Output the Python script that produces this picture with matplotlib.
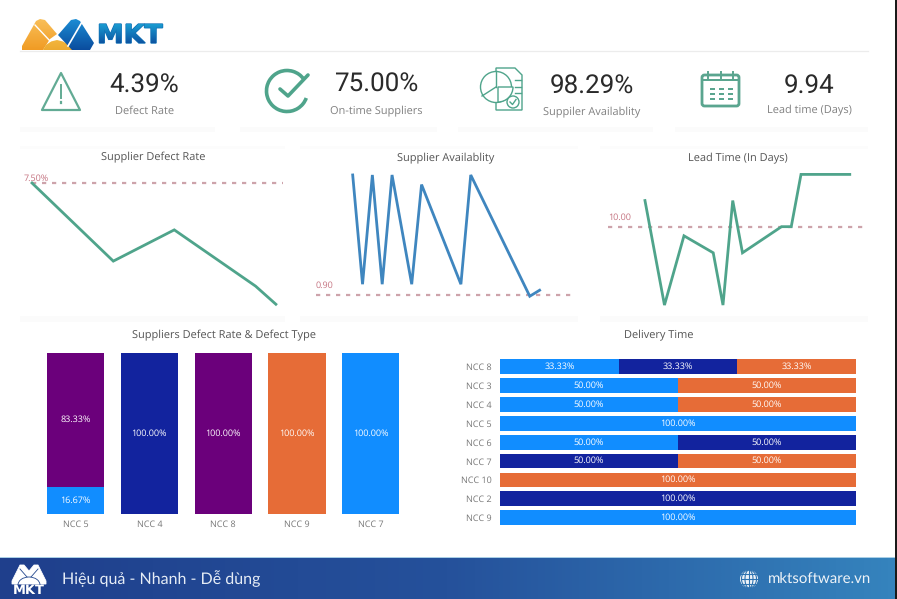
import numpy as np
import matplotlib
matplotlib.use("Agg")
import matplotlib.pyplot as plt
from matplotlib.colors import LinearSegmentedColormap
from matplotlib.font_manager import FontProperties
from matplotlib.patches import Circle, FancyBboxPatch, PathPatch, Polygon, Rectangle, Wedge, Arc
from matplotlib.path import Path
from matplotlib.textpath import TextPath
from matplotlib.transforms import Affine2D

W, H = 897, 599

# kpi cards
kpi_values = ["4.39%", "75.00%", "98.29%", "9.94"]
kpi_labels = ["Defect Rate", "On-time Suppliers", "Suppiler Availablity", "Lead time (Days)"]

# line charts, x is the position along the date axis
defect_x = [0, 4, 7, 11, 12]
defect_y = [7.5, 5.0, 6.0, 4.2, 3.62]
defect_target = 7.5

avail_x = [0, 1, 2, 3, 4, 6, 7, 11, 12, 18, 19]
avail_y = [1.0, 0.909, 1.0, 0.909, 1.0, 0.909, 0.992, 0.909, 1.0, 0.899, 0.904]
avail_target = 0.9

lead_x = [0, 2, 4, 7, 8, 9, 10, 14, 15, 16, 21]
lead_y = [11, 7, 9.65, 9, 7, 11, 9, 10, 10, 12, 12]
lead_target = 10

# defect type columns
defect_names = ["NCC 5", "NCC 4", "NCC 8", "NCC 9", "NCC 7"]
defect_blue = [16.67, 0, 0, 0, 100]
defect_navy = [0, 100, 0, 0, 0]
defect_purple = [83.33, 0, 100, 0, 0]
defect_orange = [0, 0, 0, 100, 0]

# delivery time bars
delivery_names = ["NCC 8", "NCC 3", "NCC 4", "NCC 5", "NCC 6", "NCC 7", "NCC 10", "NCC 2", "NCC 9"]
delivery_blue = [33.33, 50, 50, 100, 50, 0, 0, 0, 100]
delivery_navy = [33.33, 0, 0, 0, 50, 50, 0, 100, 0]
delivery_orange = [33.33, 50, 50, 0, 0, 50, 100, 0, 0]

BLUE = "#118dff"
NAVY = "#12239e"
ORANGE = "#e66c37"
PURPLE = "#6b007b"
TEAL = "#4fa48b"
LINE_BLUE = "#3f86bf"
DASH = "#cda3ab"
RED_TEXT = "#c4717f"
UI_FONT = "Open Sans"

plt.rcParams["text.hinting"] = "none"
plt.rcParams["text.hinting_factor"] = 1

fig = plt.figure(figsize=(W / 100, H / 100), dpi=100, facecolor="white")


def px_axes(left, top, right, bottom):
    ax = fig.add_axes([left / W, 1 - bottom / H, (right - left) / W, (bottom - top) / H])
    ax.patch.set_alpha(0)
    return ax


# page layer in pixel coordinates for cards, icons, logo and footer
page = px_axes(0, 0, W, H)
page.set_axis_off()


def gradient(path, box, colors, horizontal=False):
    x0, y0, x1, y1 = box
    cmap = LinearSegmentedColormap.from_list("g", colors)
    ramp = np.linspace(0, 1, 128)
    ramp = ramp.reshape(1, -1) if horizontal else ramp.reshape(-1, 1)
    im = page.imshow(ramp, cmap=cmap, extent=(x0, x1, y1, y0), aspect="auto", zorder=3,
                     interpolation="bilinear")
    if path is not None:
        im.set_clip_path(path, page.transData)
    return im


def poly_path(points):
    return Path(points + [points[0]], closed=False)


# faint card shading
for x0, x1 in [(20, 215), (240, 437), (458, 653), (675, 868)]:
    page.add_patch(Rectangle((x0, 127), x1 - x0, 5, fc="#fbfbfb", ec="none", zorder=1))
for x0, x1 in [(20, 285), (300, 578), (600, 868)]:
    page.add_patch(Rectangle((x0, 146), x1 - x0, 3, fc="#fcfcfc", ec="none", zorder=1))
    page.add_patch(Rectangle((x0, 316), x1 - x0, 6, fc="#fbfbfb", ec="none", zorder=1))
page.plot([20, 868], [51, 51], color="#ececec", lw=0.9, zorder=1)

# logo
gradient(poly_path([(22, 50), (22, 46), (36, 21), (40, 19), (45, 20), (57, 34), (50, 39), (43, 50)]),
         (20, 18, 74, 51), ["#f9c05a", "#f09a22"])
gradient(poly_path([(43, 50), (46, 45), (51, 41.5), (57, 40), (63, 41.5), (69, 45), (73, 50)]),
         (42, 38, 74, 51), ["#f4b840", "#eca92f"])
gradient(poly_path([(58, 35), (71, 20), (76, 19), (80, 21), (94, 43), (90, 50), (72, 50)]),
         (57, 18, 95, 51), ["#1c8fd6", "#0a4a9c"])
page.plot([35, 50], [25, 41], color="white", lw=1.0, zorder=4)
page.plot([82, 68], [22, 46], color="white", lw=1.2, zorder=4)

logo_text = TextPath((0, 0), "MKT", size=26, prop=FontProperties(family="DejaVu Sans", weight="bold"))
logo_text = logo_text.transformed(Affine2D().scale(1.03, -1).translate(97, 43))
page.add_patch(PathPatch(logo_text, fc="#1070b5", ec="#1070b5", lw=1.0, zorder=2))
gradient(logo_text, (96, 23, 165, 44), ["#1ba0d4", "#0c50a0"])

# kpi numbers
kpi_x = [144.5, 376, 592, 809]
kpi_y = [86, 85, 87, 86]
kpi_ly = [111.5, 110.5, 112.5, 110.5]
for x, y, ly, val, lab in zip(kpi_x, kpi_y, kpi_ly, kpi_values, kpi_labels):
    page.text(x, y, val, ha="center", va="center", fontsize=18.5, color="#2a2a2a",
              family="Roboto", zorder=5)
    page.text(x, ly, lab, ha="center", va="center", fontsize=8.1, color="#808080",
              family=UI_FONT, zorder=5)

# warning icon
page.add_patch(Polygon([(42, 110), (80, 110), (61, 73)], closed=True, fc="none", ec="#62ab94",
                       lw=1.6, joinstyle="round", zorder=5))
page.plot([61, 61], [85, 98], color="#62ab94", lw=1.4, zorder=5)
page.plot([61, 61], [101.5, 103], color="#62ab94", lw=1.6, zorder=5)

# check icon
page.add_patch(Arc((287, 91), 41, 41, theta1=-340, theta2=-35, color=TEAL, lw=2.6, zorder=5))
page.plot([280, 288, 308], [89, 96, 75], color=TEAL, lw=2.6, solid_capstyle="round",
          solid_joinstyle="round", zorder=5)

# report icon
icon_lw = 1.0
page.add_patch(Polygon([(496, 68), (515, 68), (522, 75), (522, 110), (496, 110)], closed=True,
                       fc="white", ec=TEAL, lw=icon_lw, zorder=5))
page.add_patch(Circle((496, 87), 15.5, fc="white", ec=TEAL, lw=icon_lw, zorder=5))
page.add_patch(Wedge((498, 87), 15, 0, 90, fc="white", ec=TEAL, lw=icon_lw, zorder=6))
page.plot([496, 482], [87, 96], color=TEAL, lw=icon_lw, zorder=6)
page.plot([496, 496], [87, 71], color=TEAL, lw=icon_lw, zorder=6)
for y in [80, 87, 93]:
    page.plot([515, 521], [y, y], color=TEAL, lw=icon_lw, zorder=6)
page.add_patch(Circle((513, 102), 6, fc="white", ec=TEAL, lw=icon_lw, zorder=6))
page.plot([510, 512.5, 516], [102, 104.5, 99.5], color=TEAL, lw=icon_lw, zorder=7)

# calendar icon
page.add_patch(FancyBboxPatch((702, 75), 37, 31, boxstyle="round,pad=0,rounding_size=2.5",
                              fc="white", ec="#5aa58f", lw=2.0, zorder=5))
page.add_patch(Rectangle((702, 79), 37, 2, fc="#5aa58f", ec="none", zorder=5))
for x in [708, 721, 733]:
    page.plot([x, x], [72, 78], color="#5aa58f", lw=1.4, zorder=6)
for x in [712, 721, 730]:
    for y in [89, 94, 99]:
        page.add_patch(Rectangle((x - 2.5, y - 1), 5, 2.2, fc="#5aa58f", ec="none", zorder=6))

# panel titles
titles = [("Supplier Defect Rate", 153.5, 157), ("Supplier Availablity", 446, 158),
          ("Lead Time (In Days)", 738, 158), ("Suppliers Defect Rate & Defect Type", 224, 335.5),
          ("Delivery Time", 659, 335.5)]
for name, x, y in titles:
    page.text(x, y, name, ha="center", va="center", fontsize=8.1, color="#555555",
              family=UI_FONT, zorder=5)


def line_panel(box, xlim, ylim, x, y, target, color, label, label_px):
    ax = px_axes(*box)
    ax.set_xlim(*xlim)
    ax.set_ylim(*ylim)
    ax.set_axis_off()
    ax.axhline(target, color=DASH, lw=1.6, dashes=(1.9, 2.6), zorder=1)
    ax.plot(x, y, color=color, lw=2.0, solid_joinstyle="miter", clip_on=False, zorder=2)
    page.text(label_px[0], label_px[1], label, ha="left", va="center", fontsize=6.4,
              color=RED_TEXT, family=UI_FONT, zorder=5)


#plot 1:
line_panel((32, 170, 283, 310), (0, 12.35), (3.436, 7.916), defect_x, defect_y, defect_target,
           TEAL, "7.50%", (24, 178.5))
#plot 2:
line_panel((316, 165, 576, 305), (-3.73, 22.7), (0.8917, 1.0083), avail_x, avail_y, avail_target,
           LINE_BLUE, "0.90", (316, 285.5))
#plot 3:
line_panel((608, 165, 868, 315), (-3.79, 22.87), (6.62, 12.36), lead_x, lead_y, lead_target,
           TEAL, "10.00", (608, 218))

#plot 4: stacked columns
ax4 = px_axes(38.8, 352.7, 407.5, 514.3)
ax4.set_xlim(-0.5, 4.5)
ax4.set_ylim(0, 100)
pos = np.arange(len(defect_names))
bottom = np.zeros(len(defect_names))
for vals, col in [(defect_blue, BLUE), (defect_navy, NAVY), (defect_purple, PURPLE), (defect_orange, ORANGE)]:
    ax4.bar(pos, vals, width=0.776, bottom=bottom, color=col)
    for i, v in enumerate(vals):
        if v > 0:
            ax4.text(i, bottom[i] + v / 2, "%.2f%%" % v, ha="center", va="center", fontsize=6.5,
                     color="white", family=UI_FONT)
    bottom = bottom + np.array(vals)
ax4.set_xticks(pos, defect_names, fontsize=6.5, color="#777777", family=UI_FONT)
ax4.set_yticks([])
ax4.tick_params(axis="x", length=0, pad=4)
for side in ax4.spines.values():
    side.set_visible(False)

#plot 5: stacked bars
ax5 = px_axes(500, 357.2, 856, 527.1)
ax5.set_xlim(0, 100)
ax5.set_ylim(8.5, -0.5)
rows = np.arange(len(delivery_names))
left = np.zeros(len(delivery_names))
for vals, col in [(delivery_blue, BLUE), (delivery_navy, NAVY), (delivery_orange, ORANGE)]:
    ax5.barh(rows, vals, height=0.78, left=left, color=col)
    for i, v in enumerate(vals):
        if v > 0:
            ax5.text(left[i] + v / 2, i, "%.2f%%" % v, ha="center", va="center", fontsize=6.5,
                     color="white", family=UI_FONT)
    left = left + np.array(vals)
ax5.set_yticks(rows, delivery_names, fontsize=6.5, color="#777777", family=UI_FONT)
ax5.set_xticks([])
ax5.tick_params(axis="y", length=0, pad=6)
for side in ax5.spines.values():
    side.set_visible(False)

# footer band
page.add_patch(Rectangle((0, 556.5), 895, 1.5, fc="#a9cfe6", ec="none", zorder=2))
gradient(None, (0, 558, 895, 599), ["#1f3f8c", "#25519b", "#3583bd"], horizontal=True)
page.add_patch(Rectangle((895, 0), 2, H, fc="#1a1a1a", ec="none", zorder=8))

# footer logo
page.add_patch(Polygon([(12, 584), (12, 581), (20, 565), (24, 565), (29, 571), (34, 565), (38, 565),
                        (46, 581), (46, 584)], closed=True, fc="white", ec="white", lw=0.6, zorder=5))
page.plot([20, 27], [569, 577], color="#24488f", lw=0.6, zorder=6)
page.plot([38, 31], [569, 577], color="#24488f", lw=0.6, zorder=6)
page.add_patch(Arc((29, 585), 22, 16, theta1=180, theta2=360, color="#24488f", lw=0.6, zorder=6))
page.text(29, 590.5, "MKT", ha="center", va="center", fontsize=9.6, weight="bold", color="white",
          family="DejaVu Sans", zorder=5)

page.text(62, 579, "Hiệu quả - Nhanh - Dễ dùng", ha="left", va="center", fontsize=11.7,
          color="#e6edf6", family="Lato", zorder=5)
page.text(768, 579, "mktsoftware.vn", ha="left", va="center", fontsize=11, color="#eef3f8",
          family="Lato", zorder=5)

# globe icon
page.add_patch(Circle((749, 579), 9, fc="#eef3f8", ec="none", zorder=5))
globe_blue = "#2f74b1"
for w in [8, 15]:
    page.add_patch(Arc((749, 579), w, 18, color=globe_blue, lw=0.8, zorder=6))
for y in [574, 579, 584]:
    page.plot([740.5, 757.5], [y, y], color=globe_blue, lw=0.8, zorder=6)
page.plot([749, 749], [570, 588], color=globe_blue, lw=0.8, zorder=6)

page.set_xlim(0, W)
page.set_ylim(H, 0)

fig.savefig("out.png", dpi=100, facecolor="white")
